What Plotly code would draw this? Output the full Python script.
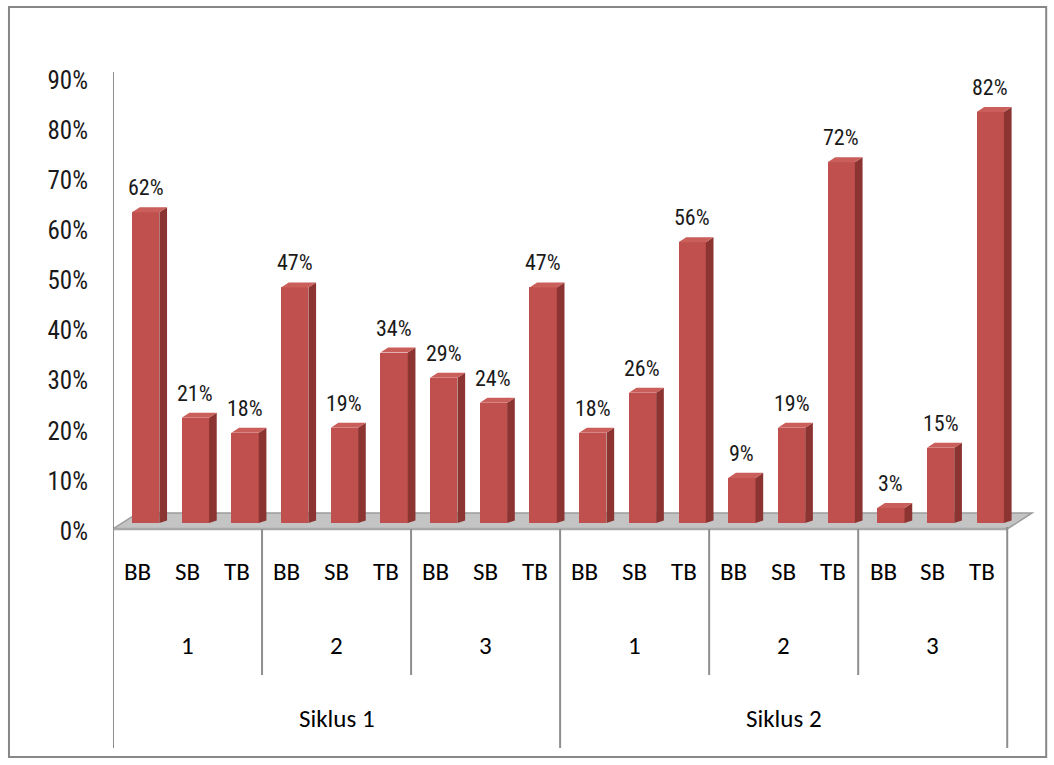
import plotly.graph_objects as go

# ---- data ----
levels3 = ["BB", "SB", "TB"] * 6
meetings = ["1", "2", "3", "1", "2", "3"]
cycles = ["Siklus 1", "Siklus 2"]
values = [0.62, 0.21, 0.18, 0.47, 0.19, 0.34, 0.29, 0.24, 0.47,
          0.18, 0.26, 0.56, 0.09, 0.19, 0.72, 0.03, 0.15, 0.82]

W, H = 1054, 765
L, R = 113.0, 1041.8   # plot area px (x range -0.5 .. 18.2)
T, B = 72.0, 533.0     # plot area px (y range -0.02 .. 0.9)
XR = [-0.5, 18.2]
YR = [-0.02, 0.9]

def py(p):
    return (B - p) / (B - T)

def pxp(p):
    return (p - L) / (R - L)

n = len(values)
idx = list(range(n))

FRONT = "#C0504D"
SIDE = "#8C3432"
TOP = "#CA5E5A"
GRID = "#8E8E8E"
NARROW = ("Roboto Condensed, Noto Sans Condensed, DejaVu Sans Condensed, "
          "Liberation Sans Narrow, Arial Narrow, Roboto, sans-serif")

# face geometry (category units)
f0, f1 = -0.117, 0.433   # front face extent
dx, dy = 0.155, 0.010    # depth offset

fig = go.Figure()

fig.add_trace(go.Bar(
    x=[i + (f0 + f1) / 2 for i in idx], y=values, width=f1 - f0,
    marker=dict(color=FRONT, line=dict(width=0)), hoverinfo="skip",
    showlegend=False))

sx, sy, tx, ty = [], [], [], []
for i, v in zip(idx, values):
    sx += [i + f1, i + f1, i + f1 + dx, i + f1 + dx, i + f1, None]
    sy += [0, v, v + dy, dy * 0.5, 0, None]
    tx += [i + f0, i + f1, i + f1 + dx, i + f0 + dx, i + f0, None]
    ty += [v, v, v + dy, v + dy, v, None]

fig.add_trace(go.Scatter(x=sx, y=sy, mode="lines", fill="toself",
                         fillcolor=SIDE, line=dict(width=0, color=SIDE),
                         hoverinfo="skip", showlegend=False))
fig.add_trace(go.Scatter(x=tx, y=ty, mode="lines", fill="toself",
                         fillcolor=TOP, line=dict(width=0, color=TOP),
                         hoverinfo="skip", showlegend=False))

shapes = []
# floor
fl_front = -0.012
fl_back = 0.020
shapes.append(dict(type="path", xref="x", yref="y", layer="below",
                   path=f"M -0.5 {fl_front} L 17.5 {fl_front} L 18.0 {fl_back} L 0.0 {fl_back} Z",
                   fillcolor="#C4C4C4", line=dict(color="#9C9C9C", width=1.5)))
shapes.append(dict(type="line", xref="x", yref="y", layer="below",
                   x0=-0.5, x1=17.5, y0=fl_front, y1=fl_front,
                   line=dict(color="#A8A8A8", width=2.5)))

# outer border
shapes.append(dict(type="rect", xref="paper", yref="paper",
                   x0=pxp(9), x1=pxp(1046), y0=py(757), y1=py(7),
                   line=dict(color="#878787", width=2)))

# left axis line (value axis + category outline)
shapes.append(dict(type="line", xref="x", yref="paper", x0=-0.5, x1=-0.5,
                   y0=py(72), y1=py(748), line=dict(color=GRID, width=2)))
# category dividers
ncyc = len(cycles)
per_cyc = n // ncyc
for k in range(1, len(meetings)):
    xb = k * 3 - 0.5
    long = (k * 3) % per_cyc == 0
    shapes.append(dict(type="line", xref="x", yref="paper", x0=xb, x1=xb,
                       y0=py(529), y1=py(748 if long else 675),
                       line=dict(color=GRID, width=2)))
shapes.append(dict(type="line", xref="x", yref="paper", x0=n - 0.5, x1=n - 0.5,
                   y0=py(527), y1=py(748), line=dict(color=GRID, width=2)))

ann = []
LAB = dict(family=NARROW, size=22, color="#1a1a1a")
CAT = dict(family="Carlito, Lato, Open Sans, sans-serif", size=25, color="#000000")

for i, v in zip(idx, values):
    ann.append(dict(x=i + (f0 + f1) / 2, y=v, xref="x", yref="y",
                    text=f"{round(v * 100)}%", showarrow=False,
                    yanchor="bottom", yshift=10, font=LAB))
for i, c in zip(idx, levels3):
    ann.append(dict(x=i, y=py(571), xref="x", yref="paper", text=c,
                    yanchor="middle", showarrow=False, font=CAT))
for g, m in enumerate(meetings):
    ann.append(dict(x=g * 3 + 1, y=py(645), xref="x", yref="paper", text=m,
                    yanchor="middle", showarrow=False, font=CAT))
for c, name in enumerate(cycles):
    ann.append(dict(x=c * per_cyc + (per_cyc - 1) / 2, y=py(718), xref="x",
                    yref="paper", text=name, yanchor="middle",
                    showarrow=False, font=CAT))

fig.update_layout(
    width=W, height=H,
    margin=dict(l=L, r=W - R, t=T, b=H - B, pad=0),
    plot_bgcolor="white", paper_bgcolor="white",
    shapes=shapes, annotations=ann, bargap=0,
    xaxis=dict(range=XR, showgrid=False, zeroline=False, showline=False,
               showticklabels=False, ticks=""),
    yaxis=dict(range=YR, showgrid=False, zeroline=False, showline=False,
               tickvals=[k / 10 for k in range(10)], tickformat=".0%",
               ticks="", ticklabelstandoff=24, ticklabelshift=8,
               tickfont=dict(family=NARROW, size=25, color="#1a1a1a")),
)

fig.write_html("out.html")
